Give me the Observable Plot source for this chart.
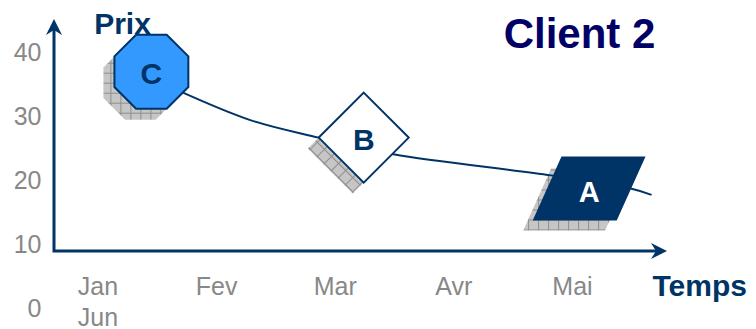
<!DOCTYPE html>
<html><head><meta charset="utf-8">
<script src="https://cdn.jsdelivr.net/npm/d3@7"></script>
<script src="https://cdn.jsdelivr.net/npm/@observablehq/plot@0.6"></script>
<style>
body{margin:0;background:#fff}
#chart svg{display:block}
</style>
</head><body>
<svg width="0" height="0" style="position:absolute">
  <defs>
    <pattern id="chk" patternUnits="userSpaceOnUse" width="10" height="10">
      <rect width="10" height="10" fill="#c6c6c6"/>
      <path d="M0,0.5H10M0.5,0V10" stroke="#8e8e8e" stroke-width="1"/>
    </pattern>
    <pattern id="chkRot" patternUnits="userSpaceOnUse" width="10" height="10" patternTransform="rotate(45)">
      <rect width="10" height="10" fill="#c6c6c6"/>
      <path d="M0,0.5H10M0.5,0V10" stroke="#8e8e8e" stroke-width="1"/>
    </pattern>
  </defs>
</svg>
<div id="chart"></div>
<script>
// ---- data ----
const months = ["Jan", "Fev", "Mar", "Avr", "Mai", "Jun"];
const yTicks = [0, 10, 20, 30, 40];
const clients = ["C", "B", "A"];
const clientMonth = [0.45, 2.24, 4.14];
const clientPrice = [37.0, 26.7, 18.75];
const pathMonth = [0.66, 1.29, 1.86, 2.49, 3.82, 4.49, 4.66];
const pathPrice = [34.2, 29.4, 26.7, 24.1, 20.8, 18.75, 17.8];

const points = clients.map((c, i) => ({client: c, month: clientMonth[i], price: clientPrice[i]}));
const path = pathMonth.map((m, i) => ({month: m, price: pathPrice[i]}));

const NAVY = "#003366";
const GRAY = "#888888";
const FONT = "Arial, 'Liberation Sans', sans-serif";

// ---- custom symbols ----
const octagon = {draw(ctx, size) {
  const r = Math.sqrt(size / Math.PI);
  for (let k = 0; k < 8; k++) {
    const a = (22.5 + 45 * k) * Math.PI / 180;
    const x = r * Math.cos(a), y = r * Math.sin(a);
    k ? ctx.lineTo(x, y) : ctx.moveTo(x, y);
  }
  ctx.closePath();
}};
const diamond = {draw(ctx, size) {
  const r = Math.sqrt(size / Math.PI);
  ctx.moveTo(0, -r); ctx.lineTo(r, 0); ctx.lineTo(0, r); ctx.lineTo(-r, 0); ctx.closePath();
}};
const parallelogram = {draw(ctx, size) {
  const r = Math.sqrt(size / Math.PI);
  ctx.moveTo(-0.87 * r, -r); ctx.lineTo(1.77 * r, -r); ctx.lineTo(0.87 * r, r); ctx.lineTo(-1.77 * r, r); ctx.closePath();
}};

const shapes = {
  C: {symbol: octagon, r: 40, fill: "#3399FF", shadow: "url(#chk)"},
  B: {symbol: diamond, r: 45, fill: "#ffffff", shadow: "url(#chkRot)"},
  A: {symbol: parallelogram, r: 31, fill: NAVY, shadow: "url(#chk)"}
};

// axes drawn from the frame (L-shaped with arrowheads)
function axesMark(index, scales, values, dims) {
  const {width, height, marginLeft, marginRight, marginTop, marginBottom} = dims;
  const x0 = marginLeft, y0 = height - marginBottom, x1 = width - marginRight, y1 = marginTop;
  const g = d3.create("svg:g");
  g.append("path").attr("fill", "none").attr("stroke", NAVY).attr("stroke-width", 3)
    .attr("d", `M${x0},${y1 + 8}V${y0}H${x1 - 8}`);
  g.append("path").attr("fill", NAVY)
    .attr("d", `M${x0},${y1}l-8,16l8,-5l8,5z`);
  g.append("path").attr("fill", NAVY)
    .attr("d", `M${x1},${y0}l-16,-8l5,8l-5,8z`);
  return g.node();
}

const txt = {fontFamily: FONT, lineAnchor: "middle"};

const marks = [
  axesMark,
  // y tick labels
  Plot.text(yTicks, {...txt, y: d => d, text: d => String(d), frameAnchor: "left", dx: -13, textAnchor: "end",
    fill: GRAY, fontSize: 25}),
  // month labels (Jun wraps below Jan)
  Plot.text(months.slice(0, 5), {...txt, x: (d, i) => i, text: d => d, frameAnchor: "bottom", dy: 35,
    textAnchor: "middle", fill: GRAY, fontSize: 25}),
  Plot.text(months.slice(5), {...txt, x: () => 0, text: d => d, frameAnchor: "bottom", dy: 66,
    textAnchor: "middle", fill: GRAY, fontSize: 25}),
  // axis titles
  Plot.text(["Prix"], {...txt, text: d => d, frameAnchor: "top-left", dx: 68, dy: 4.5, textAnchor: "middle",
    fill: NAVY, fontSize: 30, fontWeight: "bold"}),
  Plot.text(["Temps"], {...txt, text: d => d, frameAnchor: "bottom-right", dx: -15, dy: 34.5, textAnchor: "start",
    fill: NAVY, fontSize: 30, fontWeight: "bold"}),
  Plot.text(["Client 2"], {...txt, text: d => d, frameAnchor: "top-left", dx: 525, dy: 15.5, textAnchor: "middle",
    fill: "#000066", fontSize: 42, fontWeight: "bold"})
];

// shadows
for (const c of clients) {
  const s = shapes[c];
  marks.push(Plot.dot(points.filter(d => d.client === c), {x: "month", y: "price", symbol: s.symbol, r: s.r,
    fill: s.shadow, stroke: "none", dx: -11, dy: 11}));
}
// connector line
marks.push(Plot.line(path, {x: "month", y: "price", stroke: NAVY, strokeWidth: 2, curve: "catmull-rom"}));
// shapes
for (const c of clients) {
  const s = shapes[c];
  marks.push(Plot.dot(points.filter(d => d.client === c), {x: "month", y: "price", symbol: s.symbol, r: s.r,
    fill: s.fill, stroke: NAVY, strokeWidth: 2}));
}
// letters
marks.push(Plot.text(points.filter(d => d.client !== "A"), {...txt, x: "month", y: "price", text: "client", dy: 3,
  fill: NAVY, fontSize: 30, fontWeight: "bold"}));
marks.push(Plot.text(points.filter(d => d.client === "A"), {...txt, x: "month", y: "price", text: "client", dy: 4,
  fill: "#ffffff", fontSize: 29, fontWeight: "bold"}));

const chart = Plot.plot({
  width: 756,
  height: 329,
  marginLeft: 54,
  marginTop: 19,
  marginRight: 89,
  marginBottom: 78,
  x: {type: "linear", domain: [0, 4], range: [97.5, 572], axis: null},
  y: {type: "linear", domain: [0, 40], range: [308, 52], axis: null},
  style: {background: "#fff", fontFamily: FONT},
  marks
});
document.getElementById("chart").appendChild(chart);
</script>
</body></html>
